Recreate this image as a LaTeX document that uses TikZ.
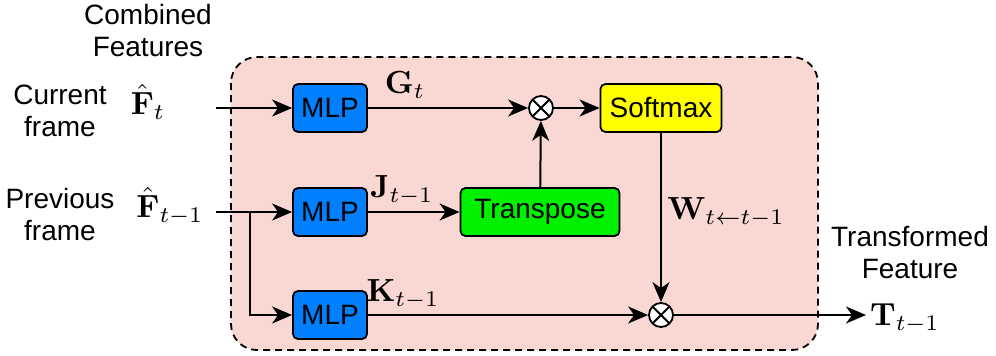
\documentclass[tikz,border=0pt]{standalone}
\usepackage{amsmath}
\usepackage{graphicx}
\usepackage[no-math]{fontspec}
\setmainfont{Liberation Sans}
\usetikzlibrary{arrows.meta}
\definecolor{bgpink}{RGB}{249,215,210}
\definecolor{mlpblue}{RGB}{0,127,255}
\definecolor{trgreen}{RGB}{0,240,0}
\definecolor{smyellow}{RGB}{255,255,0}
\newcommand{\mymath}[1]{\scalebox{3.2}{$#1$}}
\tikzset{
  box/.style={draw=black, line width=1.8pt, rounded corners=5pt, minimum height=48pt, inner sep=0pt, font=\fontsize{28}{32}\selectfont},
  mlp/.style={box, fill=mlpblue, minimum width=74pt},
  arr/.style={line width=2pt, -{Stealth[length=20pt,width=17pt,inset=6pt]}},
  lbl/.style={font=\fontsize{28}{32}\selectfont, align=center, inner sep=0pt},
  mth/.style={font=\normalsize, inner sep=0pt},
  otimesnode/.style={circle, draw=black, fill=white, line width=1.8pt, minimum size=24pt, inner sep=0pt,
    path picture={\draw[line width=1.8pt] (path picture bounding box.north west) -- (path picture bounding box.south east)
      (path picture bounding box.north east) -- (path picture bounding box.south west);}}
}
\begin{document}
\begin{tikzpicture}[x=1pt,y=-1pt]
\useasboundingbox (0,0) rectangle (996,356);
\draw[fill=bgpink, line width=1.8pt, dash pattern=on 7pt off 5pt, rounded corners=26pt] (231,57) rectangle (818,350);

\node[mlp] (m1) at (330,108) {MLP};
\node[mlp] (m2) at (330,212) {MLP};
\node[mlp] (m3) at (330,315) {MLP};
\node[box, fill=smyellow, minimum width=121pt] (sm) at (661,108) {Softmax};
\node[box, fill=trgreen, minimum width=159pt] (tr) at (540,212) {Transpose};
\node[otimesnode] (x1) at (541,108) {};
\node[otimesnode] (x2) at (661,315) {};

\coordinate (in1) at (216,108);
\coordinate (in2) at (216,212);
\coordinate (br) at (250,212);
\coordinate (out) at (866,315);

\node[lbl] (comb) at (148,30) {Combined\\Features};
\node[lbl] (cur) at (60,111) {Current\\frame};
\node[lbl] (prev) at (60,214) {Previous\\frame};
\node[lbl] (trf) at (910,252) {Transformed\\Feature};

\node[mth] (f1) at (148,102) {\mymath{\hat{\mathbf{F}}_t}};
\node[mth] (f2) at (170,206) {\mymath{\hat{\mathbf{F}}_{t-1}}};
\node[mth] (gl) at (405,85) {\mymath{\mathbf{G}_t}};
\node[mth] (jl) at (402,190) {\mymath{\mathbf{J}_{t-1}}};
\node[mth] (kl) at (403,294) {\mymath{\mathbf{K}_{t-1}}};
\node[mth] (wl) at (726,212) {\mymath{\mathbf{W}_{t\leftarrow t-1}}};
\node[mth, anchor=west] (tl) at (870,318) {\mymath{\mathbf{T}_{t-1}}};

\draw[arr] (in1) -- (m1);
\draw[arr] (in2) -- (m2);
\draw[arr] (br) |- (m3);
\draw[arr] (m1) -- (x1);
\draw[arr] (x1) -- (sm);
\draw[arr] (tr) -- (x1);
\draw[arr] (m2) -- (tr);
\draw[arr] (sm) -- (x2);
\draw[arr] (m3) -- (x2);
\draw[arr] (x2) -- (out);
\end{tikzpicture}
\end{document}
